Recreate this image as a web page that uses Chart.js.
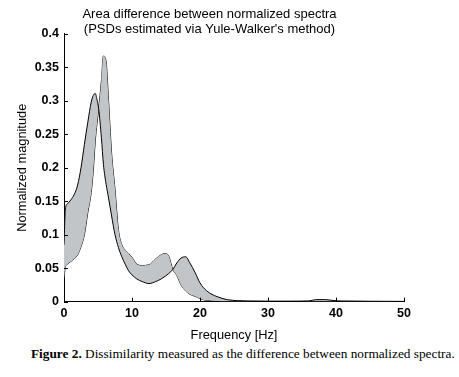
<!DOCTYPE html>
<html>
<head>
<meta charset="utf-8">
<script src="https://cdn.jsdelivr.net/npm/chart.js@4.4.1/dist/chart.umd.min.js"></script>
<style>
  html, body { margin: 0; padding: 0; background: #fff; }
  #wrap { position: relative; width: 459px; height: 377px; }
  #chart { position: absolute; left: 0; top: 0; }
  #caption {
    position: absolute; left: 31px; top: 346px; white-space: nowrap;
    font-family: "Liberation Serif", "DejaVu Serif", serif; font-size: 13.3px; color: #000;
  }
</style>
</head>
<body>
<div id="wrap">
  <canvas id="chart" width="459" height="345"></canvas>
  <div id="caption"><b>Figure 2.</b> Dissimilarity measured as the difference between normalized spectra.</div>
</div>
<script>
// frequency grid [Hz]
const freqs = [0, 0.2, 0.5, 1, 1.5, 2, 2.5, 3, 3.5, 4, 4.3, 4.6, 4.85, 5.1, 5.5, 5.8, 6.2, 6.5, 7, 7.5,
  8, 8.5, 9, 9.5, 10, 10.7, 11.5, 12.5, 13.5, 14.3, 14.9, 15.4, 16, 16.6, 17.2, 17.9, 18.5, 19.3, 20, 21,
  22.5, 24, 25.5, 27, 30, 33, 36, 37, 38.5, 40, 42, 45, 50];

// first spectrum (peak ~4.6 Hz)
const psdA = [0.085, 0.138, 0.146, 0.152, 0.160, 0.174, 0.200, 0.235, 0.268, 0.298, 0.308, 0.311, 0.302, 0.288, 0.245, 0.205, 0.175, 0.158, 0.128, 0.100,
  0.081, 0.067, 0.056, 0.046, 0.040, 0.034, 0.030, 0.027, 0.030, 0.034, 0.038, 0.042, 0.048, 0.058, 0.065, 0.067, 0.058, 0.043, 0.028, 0.016,
  0.0075, 0.003, 0.0015, 0.001, 0.0006, 0.0006, 0.001, 0.003, 0.003, 0.0012, 0.0008, 0.0005, 0.0003];

// second spectrum (peak ~5.8 Hz)
const psdB = [0.033, 0.052, 0.056, 0.060, 0.064, 0.070, 0.082, 0.100, 0.133, 0.163, 0.195, 0.240, 0.266, 0.288, 0.330, 0.367, 0.358, 0.310, 0.222, 0.168,
  0.108, 0.085, 0.077, 0.072, 0.066, 0.056, 0.054, 0.055, 0.064, 0.070, 0.072, 0.068, 0.048, 0.039, 0.025, 0.016, 0.011, 0.008, 0.0045, 0.002,
  0.001, 0.0006, 0.0004, 0.0004, 0.0004, 0.0004, 0.0004, 0.0004, 0.0004, 0.0004, 0.0004, 0.0003, 0.0003];

const titleLines = ['Area difference between normalized spectra', "(PSDs estimated via Yule-Walker's method)"];
const xTickValues = [0, 10, 20, 30, 40, 50];
const yTickValues = [0, 0.05, 0.1, 0.15, 0.2, 0.25, 0.3, 0.35, 0.4];

const toPoints = (ys) => freqs.map((f, i) => ({ x: f, y: ys[i] }));

// MATLAB style ticks pointing into the plot
const inwardTicks = {
  id: 'inwardTicks',
  afterDatasetsDraw(chart) {
    const { ctx, chartArea, scales } = chart;
    ctx.save();
    ctx.strokeStyle = '#000';
    ctx.lineWidth = 1;
    ctx.beginPath();
    xTickValues.forEach(v => {
      const px = Math.round(scales.x.getPixelForValue(v)) + 0.5;
      ctx.moveTo(px, chartArea.bottom);
      ctx.lineTo(px, chartArea.bottom - 4);
    });
    yTickValues.forEach(v => {
      const py = Math.round(scales.y.getPixelForValue(v)) + 0.5;
      ctx.moveTo(chartArea.left, py);
      ctx.lineTo(chartArea.left + 4, py);
    });
    ctx.stroke();
    ctx.restore();
  }
};

const fontFam = '"Liberation Sans", Arial, sans-serif';

new Chart(document.getElementById('chart'), {
  type: 'line',
  data: {
    datasets: [
      {
        data: toPoints(psdA),
        borderColor: '#000',
        borderWidth: 1,
        backgroundColor: '#c2c5c7',
        fill: 1,
        pointRadius: 0,
        cubicInterpolationMode: 'monotone'
      },
      {
        data: toPoints(psdB),
        borderColor: '#000',
        borderWidth: 1,
        fill: false,
        pointRadius: 0,
        cubicInterpolationMode: 'monotone'
      }
    ]
  },
  options: {
    responsive: false,
    animation: false,
    layout: { padding: { left: 15, right: 55, top: 0, bottom: 2 } },
    plugins: {
      legend: { display: false },
      tooltip: { enabled: false },
      title: {
        display: true,
        text: titleLines,
        color: '#000',
        font: { family: fontFam, size: 13, weight: 'normal', lineHeight: 1.15 },
        padding: { top: 7, bottom: -3 }
      }
    },
    scales: {
      x: {
        type: 'linear',
        min: 0, max: 50,
        afterBuildTicks: (s) => { s.ticks = xTickValues.map(v => ({ value: v })); },
        ticks: { color: '#000', font: { family: fontFam, size: 12.5, weight: 'bold' }, padding: 4, maxRotation: 0 },
        grid: { display: true, drawOnChartArea: false, drawTicks: false },
        border: { display: true, color: '#000', width: 1 },
        title: { display: true, text: 'Frequency [Hz]', color: '#000', font: { family: fontFam, size: 12.8 }, padding: { top: 3, bottom: 0 } }
      },
      y: {
        type: 'linear',
        min: 0, max: 0.4,
        afterBuildTicks: (s) => { s.ticks = yTickValues.map(v => ({ value: v })); },
        ticks: { color: '#000', font: { family: fontFam, size: 12.5, weight: 'bold' }, padding: 5,
          callback: (v) => String(Number(v.toFixed(2))) },
        grid: { display: true, drawOnChartArea: false, drawTicks: false },
        border: { display: true, color: '#000', width: 1 },
        title: { display: true, text: 'Normalized magnitude', color: '#000', font: { family: fontFam, size: 12.8 }, padding: { top: 0, bottom: 6 } },
        afterFit: (s) => { s.width = 49; }
      }
    }
  },
  plugins: [inwardTicks]
});
</script>
</body>
</html>
